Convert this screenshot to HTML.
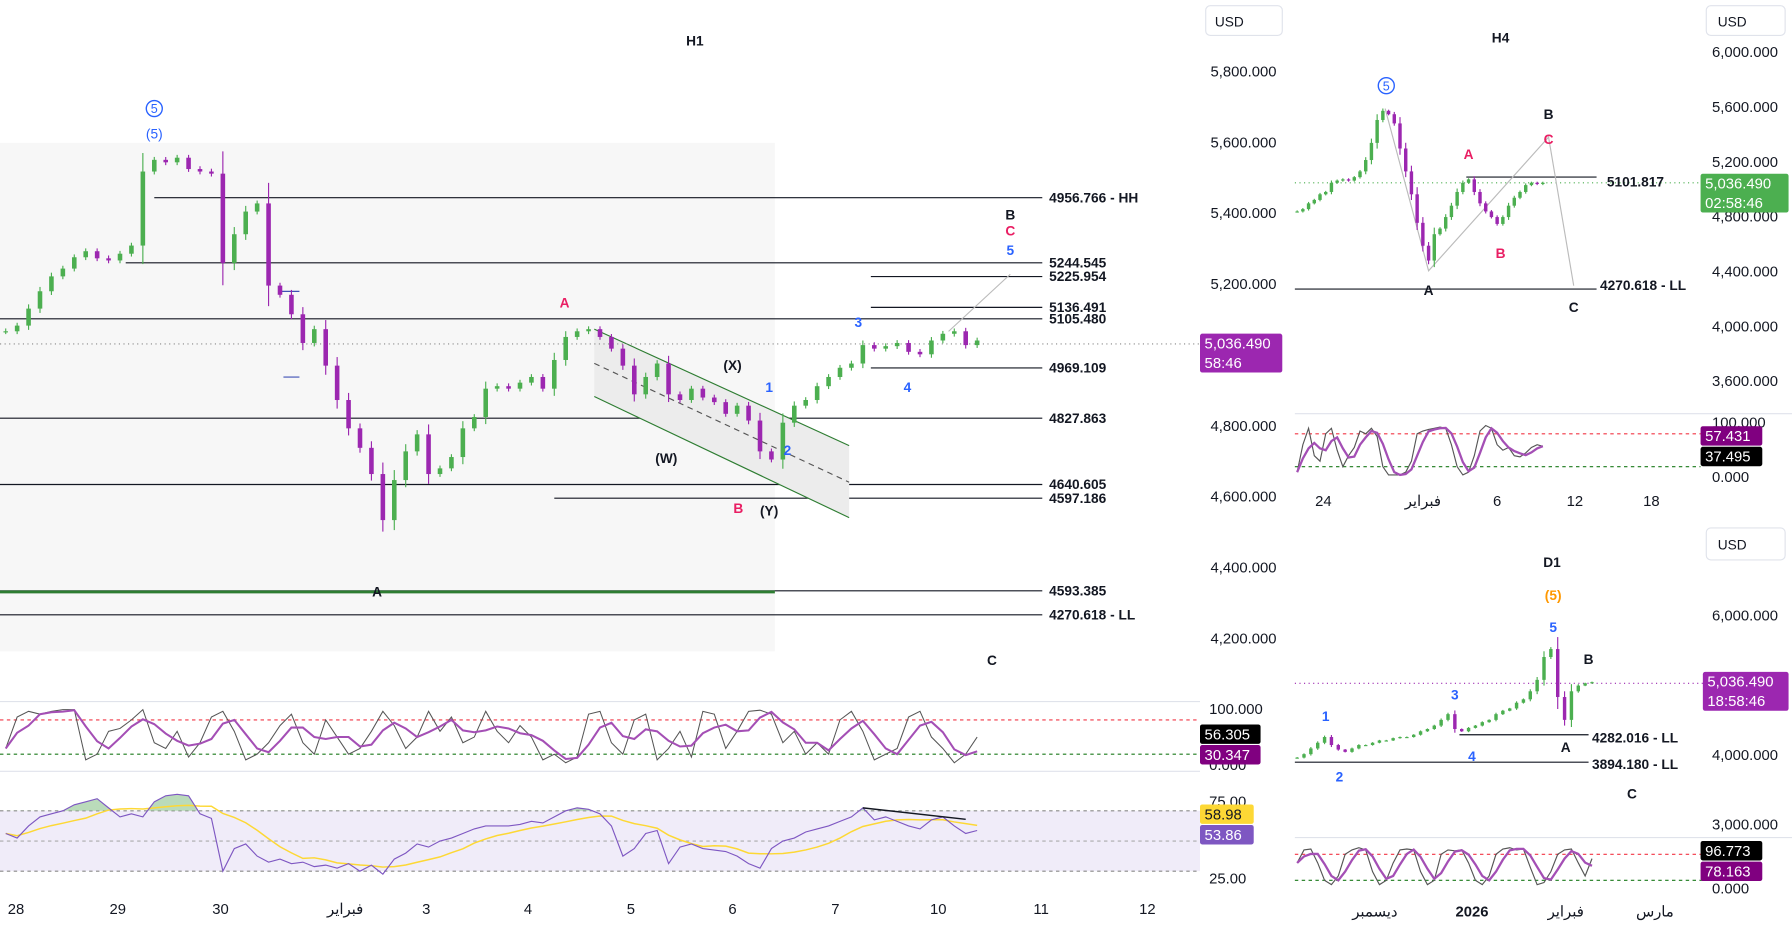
<!DOCTYPE html>
<html><head><meta charset="utf-8"><style>
html,body{margin:0;padding:0;background:#fff;overflow:hidden}
svg{display:block;font-family:"Liberation Sans","Noto Sans CJK SC",sans-serif}
</style></head><body>
<svg id="s" width="1792" height="929" viewBox="0 0 1568 813" preserveAspectRatio="none" xmlns="http://www.w3.org/2000/svg">
<rect width="1568" height="813" fill="#fff"/>
<rect x="0" y="125" width="678" height="445" fill="#f7f7f7"/>
<g id="static"></g>
</svg>
<script>
// ===== DATA =====
const h1Closes=[5068,5084,5132,5181,5223,5245,5277,5294,5274,5268,5287,5310,5519,5552,5545,5558,5526,5519,5513,5261,5342,5406,5429,5197,5171,5116,5035,5074,4971,4874,4794,4739,4665,4535,4648,4729,4777,4665,4681,4713,4794,4826,4906,4913,4906,4923,4939,4906,4987,5052,5068,5074,5052,5019,4971,4890,4939,4977,4890,4874,4906,4881,4868,4835,4858,4816,4729,4706,4810,4858,4874,4913,4939,4965,4977,5029,5019,5026,5035,5010,5003,5042,5061,5068,5029,5042];
const h1StochK=[30,85,95,90,95,98,98,10,20,60,65,80,98,40,30,60,15,40,85,95,60,10,20,40,70,90,40,20,80,50,20,30,60,95,70,30,50,95,60,85,40,50,95,60,40,70,50,10,20,5,15,90,95,40,20,80,90,10,30,60,15,95,90,30,60,95,97,90,40,60,20,40,20,80,95,60,10,20,30,85,95,50,30,5,20,50];
const h1Rsi=[55,52,60,66,68,70,74,76,78,72,66,68,66,76,80,81,80,68,65,30,45,48,40,36,38,35,36,33,34,32,35,30,34,28,38,42,48,46,50,52,55,58,60,60,60,61,63,62,66,70,72,71,68,60,40,45,55,57,35,46,48,45,44,43,40,35,32,45,50,52,56,58,60,63,66,72,64,66,63,60,58,64,66,60,55,57];
const h4Closes=[4833,4850,4892,4917,4958,4975,5042,5058,5067,5058,5083,5125,5208,5333,5500,5567,5542,5475,5292,5125,4958,4750,4583,4475,4667,4708,4792,4875,4975,5042,5067,4975,4892,4833,4792,4742,4792,4875,4933,4975,5025,5042,5033,5042];
const h4StochK=[10,60,90,40,30,80,90,50,20,40,55,85,80,90,75,20,5,5,5,10,30,80,85,88,90,92,90,60,20,5,10,40,85,95,90,60,50,55,40,38,45,55,60,57];
const d1Closes=[3951,4000,4082,4164,4246,4131,4066,4033,4082,4131,4131,4164,4197,4197,4230,4246,4246,4279,4328,4361,4410,4492,4574,4361,4328,4377,4410,4459,4492,4574,4623,4656,4738,4787,4902,5066,5394,5508,4820,4492,4902,4984,5017,5033];
const d1StochK=[60,90,92,60,20,10,30,80,90,95,90,40,10,20,60,90,92,90,40,10,20,80,90,88,90,60,20,10,30,80,92,95,90,92,50,10,15,40,80,90,92,60,30,70];
const h1AxisTicks=["5,800.000","5,600.000","5,400.000","5,200.000","5,000.000","4,800.000","4,600.000","4,400.000","4,200.000"];
const h4AxisTicks=["6,000.000","5,600.000","5,200.000","4,800.000","4,400.000","4,000.000","3,600.000"];
// ===== HELPERS =====
const NS="http://www.w3.org/2000/svg";const S=document.getElementById('s');
function mk(tag,at,parent){const e=document.createElementNS(NS,tag);for(const k in at)e.setAttribute(k,at[k]);(parent||S).appendChild(e);return e;}
function txt(x,y,t,o){o=o||{};const e=mk('text',{x:x,y:y,'font-size':o.fs||12,fill:o.fill||'#131722','text-anchor':o.anchor||'start','font-weight':o.fw||'normal'});e.textContent=t;return e;}
function sma(a,n){return a.map((v,i)=>{let s=0,c=0;for(let j=Math.max(0,i-n+1);j<=i;j++){s+=a[j];c++;}return s/c;});}
function candles(closes,xf,yf,w,name){const g=mk('g',{});
 closes.forEach((c,i)=>{const o=i?closes[i-1]:c;const up=c>=o;const col=up?'#4caf50':'#9c27b0';const x=xf(i);
 const hi=Math.max(o,c),lo=Math.min(o,c);const wick=Math.max(8,Math.abs(c-o)*0.25);
 const l=mk('line',{x1:x,x2:x,y1:yf(hi+wick),y2:yf(lo-wick),stroke:col,'stroke-width':1},g);
 const r=mk('rect',{x:x-w/2,y:yf(hi),width:w,height:Math.max(1,yf(lo)-yf(hi)),fill:col},g);
 });}
function path(vals,xf,yf,stroke,sw,name){const d=vals.map((v,i)=>(i?'L':'M')+xf(i).toFixed(1)+','+yf(v).toFixed(1)).join('');const p=mk('path',{d:d,fill:'none',stroke:stroke,'stroke-width':sw});return p;}
function hline(x1,x2,y,col,dash,sw,name){const l=mk('line',{x1:x1,x2:x2,y1:y,y2:y,stroke:col,'stroke-width':sw||1,'stroke-dasharray':dash||'none'});return l;}
function badge(x,y,w,h,bg,lines,col,name){const g=mk('g',{});mk('rect',{x:x,y:y,width:w,height:h,fill:bg,rx:2},g);lines.forEach((t,i)=>{const e=mk('text',{x:x+4,y:y+13+i*17,'font-size':13,fill:col},g);e.textContent=t;});}
// ===== H1 =====
const h1x=i=>5+i*10, h1y=p=>63+(5800-p)*0.31;
[[135,912,173,'4956.766 - HH'],[110,912,230,'5244.545'],[762,912,242,'5225.954'],[762,912,269,'5136.491'],[0,912,279,'5105.480'],[762,912,322,'4969.109'],[0,912,366,'4827.863'],[0,912,424,'4640.605'],[485,912,436,'4597.186'],[0,912,517,'4593.385'],[0,912,538,'4270.618 - LL']].forEach(l=>{hline(l[0],l[1],l[2],'#131722',null,1,'level-line');const t=txt(918,l[2]+4,l[3],{fw:'bold'});});
hline(0,678,518,'#2e7d32',null,2.5,'green-support-line');
mk('polygon',{points:'520,288 743,390 743,453 520,347',fill:'#ececec',stroke:'none'});
mk('line',{x1:520,y1:288,x2:743,y2:390,stroke:'#2e7d32'});mk('line',{x1:520,y1:347,x2:743,y2:453,stroke:'#2e7d32'});
mk('line',{x1:520,y1:318,x2:743,y2:422,stroke:'#555','stroke-dasharray':'5,4'});
mk('line',{x1:830,y1:290,x2:884,y2:240,stroke:'#bbb'});
mk('line',{x1:245,y1:255,x2:262,y2:255,stroke:'#3f51b5'});mk('line',{x1:248,y1:330,x2:262,y2:330,stroke:'#3f51b5'});
hline(0,1050,301,'#888','1,3',1,'current-price-line');
candles(h1Closes,h1x,h1y,4,'h1-candles');
txt(608,40,'H1',{fw:'bold',anchor:'middle'});
mk('circle',{cx:135,cy:95,r:7,fill:'none',stroke:'#2962ff','stroke-width':1.2});txt(135,99,'5',{fill:'#2962ff',anchor:'middle',fs:11});
txt(135,121,'(5)',{fill:'#2962ff',anchor:'middle'});
[[494,269,'A','#e91e63'],[646,449,'B','#e91e63'],[641,324,'(X)','#131722'],[583,405,'(W)','#131722'],[673,451,'(Y)','#131722'],[673,343,'1','#2962ff'],[689,398,'2','#2962ff'],[751,286,'3','#2962ff'],[794,343,'4','#2962ff'],[884,223,'5','#2962ff'],[884,206,'C','#e91e63'],[884,192,'B','#131722'],[330,522,'A','#131722'],[868,582,'C','#131722']].forEach(a=>{const t=txt(a[0],a[1],a[2],{fill:a[3],anchor:'middle',fw:'bold'});});
h1AxisTicks.forEach((t,i)=>{const p=5800-i*200;if(p===5000)return;const e=txt(1117,h1y(p)+4,t,{anchor:'end',fs:13});});
mk('rect',{x:1055,y:5,width:67,height:26,rx:4,fill:'#fff',stroke:'#e0e3eb'});txt(1063,23,'USD',{fs:12});
badge(1050,292,72,34,'#9c27b0',['5,036.490','58:46'],'#fff','h1-price-badge');
hline(0,1050,614,'#e0e3eb',null,1,'pane-separator');hline(0,1050,675,'#e0e3eb',null,1,'pane-separator');
const sY=v=>670-v*0.5;
hline(0,1050,sY(80),'#f23645','3,3',1,'stoch-upper');hline(0,1050,sY(20),'#1b7a1b','3,3',1,'stoch-lower');
path(h1StochK,h1x,sY,'#555',0.9,'h1-stoch-k');path(sma(h1StochK,3),h1x,sY,'#a44fb5',1.8,'h1-stoch-d');
txt(1058,625,'100.000',{fs:13});txt(1058,674,'0.000',{fs:13});
badge(1050,634,53,17,'#000',['56.305'],'#fff','h1-stoch-k-badge');badge(1050,652,53,17,'#800080',['30.347'],'#fff','h1-stoch-d-badge');
const rY=v=>736-(v-50)*1.32;
mk('rect',{x:0,y:rY(70),width:1050,height:rY(30)-rY(70),fill:'#f0ecf9'});
hline(0,1050,rY(70),'#888','3,3',1,'rsi-upper');hline(0,1050,rY(50),'#aaa','3,3',1,'rsi-mid');hline(0,1050,rY(30),'#888','3,3',1,'rsi-lower');
mk('clipPath',{id:'ca'}).appendChild(mk('rect',{x:0,y:0,width:1050,height:rY(70)}));
const ad='M'+h1x(0)+','+rY(70)+h1Rsi.map((v,i)=>'L'+h1x(i)+','+rY(v).toFixed(1)).join('')+'L'+h1x(h1Rsi.length-1)+','+rY(70)+'Z';
const ar=mk('path',{d:ad,fill:'#9ccc9c',opacity:0.7,'clip-path':'url(#ca)'});
path(sma(h1Rsi,8),h1x,rY,'#fdd835',1.3,'rsi-ma');path(h1Rsi,h1x,rY,'#7e57c2',1,'rsi-line');
mk('line',{x1:755,y1:707,x2:845,y2:717,stroke:'#131722','stroke-width':1.3});
txt(1058,706,'75.00',{fs:13});txt(1058,773,'25.00',{fs:13});
badge(1050,704,47,17,'#fdd835',['58.98'],'#131722','rsi-ma-badge');badge(1050,722,47,17,'#7e57c2',['53.86'],'#fff','rsi-badge');
[['28',14],['29',103],['30',193],['فبراير',302],['3',373],['4',462],['5',552],['6',641],['7',731],['10',821],['11',911],['12',1004]].forEach(d=>{const e=txt(d[1],800,d[0],{anchor:'middle',fs:13});});
// ===== H4 =====
const h4x=i=>1135+i*5, h4y=p=>45+(6000-p)*0.12;
hline(1133,1488,160,'#4caf50','1,3',1,'h4-price-line');
hline(1283,1397,155,'#131722',null,1,'h4-level');txt(1406,163,'5101.817',{fw:'bold'});
hline(1133,1397,253,'#131722',null,1,'h4-ll');txt(1400,254,'4270.618 - LL',{fw:'bold'});
mk('polyline',{points:'1212,95 1250,237 1355,120 1377,250',fill:'none',stroke:'#bbb'});
candles(h4Closes,h4x,h4y,3,'h4-candles');
txt(1313,37,'H4',{fw:'bold',anchor:'middle'});
mk('circle',{cx:1213,cy:75,r:7,fill:'none',stroke:'#2962ff','stroke-width':1.2});txt(1213,79,'5',{fill:'#2962ff',anchor:'middle',fs:11});
[[1355,104,'B','#131722'],[1285,139,'A','#e91e63'],[1355,126,'C','#e91e63'],[1313,226,'B','#e91e63'],[1250,258,'A','#131722'],[1377,273,'C','#131722']].forEach(a=>{const t=txt(a[0],a[1],a[2],{fill:a[3],anchor:'middle',fw:'bold'});});
h4AxisTicks.forEach((t,i)=>{const p=6000-i*400;const e=txt(1498,h4y(p)+5,t,{fs:13});});
mk('rect',{x:1493,y:5,width:69,height:26,rx:4,fill:'#fff',stroke:'#e0e3eb'});txt(1503,23,'USD');
badge(1488,152,77,34,'#4caf50',['5,036.490','02:58:46'],'#fff','h4-price-badge');
hline(1133,1568,362,'#e0e3eb',null,1,'pane-separator');
const h4s=v=>418-v*0.48;
hline(1133,1488,h4s(80),'#f23645','3,3',1,'stoch-upper');hline(1133,1488,h4s(20),'#1b7a1b','3,3',1,'stoch-lower');
path(h4StochK,h4x,h4s,'#555',1,'h4-stoch-k');path(sma(h4StochK,3),h4x,h4s,'#a44fb5',2,'h4-stoch-d');
txt(1498,374,'100.000',{fs:13});txt(1498,422,'0.000',{fs:13});
badge(1488,373,54,17,'#800080',['57.431'],'#fff','h4-stoch-badge');badge(1488,391,54,17,'#000',['37.495'],'#fff','h4-stoch-badge2');
[['24',1158],['فبراير',1245],['6',1310],['12',1378],['18',1445]].forEach(d=>txt(d[1],443,d[0],{anchor:'middle',fs:13}));
// ===== D1 =====
const d1x=i=>1135+i*6, d1y=p=>538+(6000-p)*0.061;
hline(1133,1490,598,'#9c27b0','1,3',1,'d1-price-line');
hline(1277,1390,643,'#131722',null,1,'d1-level');txt(1393,650,'4282.016 - LL',{fw:'bold'});
hline(1133,1390,667,'#131722',null,1,'d1-level2');txt(1393,673,'3894.180 - LL',{fw:'bold'});
candles(d1Closes,d1x,d1y,3,'d1-candles');
txt(1358,496,'D1',{fw:'bold',anchor:'middle'});
[[1359,525,'(5)','#ff9800'],[1359,553,'5','#2962ff'],[1390,581,'B','#131722'],[1160,631,'1','#2962ff'],[1273,612,'3','#2962ff'],[1172,684,'2','#2962ff'],[1288,666,'4','#2962ff'],[1370,658,'A','#131722'],[1428,699,'C','#131722']].forEach(a=>{const t=txt(a[0],a[1],a[2],{fill:a[3],anchor:'middle',fw:'bold'});});
[['6,000.000',6000],['4,000.000',4000],['3,000.000',3000]].forEach(d=>txt(1498,d1y(d[1])+5,d[0],{fs:13}));
mk('rect',{x:1493,y:462,width:69,height:28,rx:4,fill:'#fff',stroke:'#e0e3eb'});txt(1503,481,'USD');
badge(1490,588,75,34,'#9c27b0',['5,036.490','18:58:46'],'#fff','d1-price-badge');
hline(1133,1568,733,'#e0e3eb',null,1,'pane-separator');
const d1s=v=>778-v*0.38;
hline(1133,1490,d1s(80),'#f23645','3,3',1,'stoch-upper');hline(1133,1490,d1s(20),'#1b7a1b','3,3',1,'stoch-lower');
path(d1StochK,d1x,d1s,'#555',1,'d1-stoch-k');path(sma(d1StochK,3),d1x,d1s,'#a44fb5',2,'d1-stoch-d');
txt(1498,782,'0.000',{fs:13});
badge(1488,736,54,17,'#000',['96.773'],'#fff','d1-stoch-badge');badge(1488,754,54,17,'#800080',['78.163'],'#fff','d1-stoch-badge2');
[['ديسمبر',1203,'normal'],['2026',1288,'bold'],['فبراير',1370,'normal'],['مارس',1448,'normal']].forEach(d=>txt(d[1],802,d[0],{anchor:'middle',fs:13,fw:d[2]}));
</script>
</body></html>
